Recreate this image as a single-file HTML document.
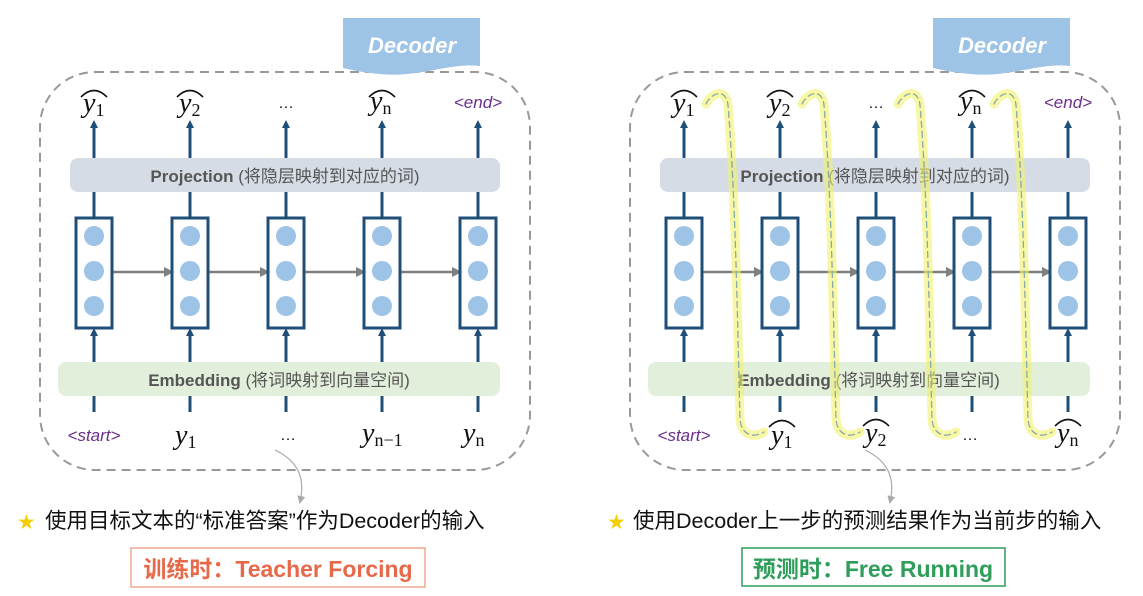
<!DOCTYPE html>
<html><head><meta charset="utf-8"><style>
body{margin:0;background:#fff;}
svg{display:block;}
.m{font-family:"Liberation Serif",serif;font-style:italic;font-size:28px;fill:#111;}
.s{font-family:"Liberation Serif",serif;font-style:normal;font-size:18px;fill:#111;}
.tag{font-family:"Liberation Sans",sans-serif;font-style:italic;font-size:17px;fill:#6b2e8e;}
.bar{font-family:"Liberation Sans","Noto Sans CJK SC",sans-serif;font-size:17px;fill:#555;}
.cn{font-family:"Liberation Sans","Noto Sans CJK SC",sans-serif;font-size:21.5px;fill:#111;}
</style></head><body>
<svg width="1143" height="596" viewBox="0 0 1143 596" xmlns="http://www.w3.org/2000/svg">
<defs>
<marker id="ab" markerWidth="8" markerHeight="8" refX="4" refY="4" orient="auto" markerUnits="userSpaceOnUse"><path d="M0,0 L8,4 L0,8 Z" fill="#1f4e79"/></marker>
<marker id="ag" markerWidth="10" markerHeight="10" refX="8" refY="5" orient="auto" markerUnits="userSpaceOnUse"><path d="M0,0 L10,5 L0,10 Z" fill="#7f7f7f"/></marker>
<marker id="al" markerWidth="8" markerHeight="8" refX="6" refY="4" orient="auto" markerUnits="userSpaceOnUse"><path d="M0,0 L8,4 L0,8 Z" fill="#aaa"/></marker>
<g id="panel">
<rect x="40" y="72" width="490" height="398" rx="55" fill="none" stroke="#999" stroke-width="2" stroke-dasharray="9,6"/>
<path d="M343,18 H480 V66 C450,62 420,78 380,74 C365,73 352,70 343,68 Z" fill="#9dc3e6"/>
<text x="412" y="53" text-anchor="middle" font-family="Liberation Sans,sans-serif" font-weight="bold" font-style="italic" font-size="22" fill="#fff">Decoder</text>
<rect x="70" y="158" width="430" height="34" rx="8" fill="#d6dce5"/>
<text x="285" y="182" text-anchor="middle" class="bar"><tspan font-weight="bold">Projection</tspan> (将隐层映射到对应的词)</text>
<rect x="58" y="362" width="442" height="34" rx="8" fill="#e2efda"/>
<text x="279" y="386" text-anchor="middle" class="bar"><tspan font-weight="bold">Embedding</tspan> (将词映射到向量空间)</text>
<g stroke="#1f4e79" stroke-width="3" fill="none">
<path d="M94,158 V124" marker-end="url(#ab)"/><path d="M190,158 V124" marker-end="url(#ab)"/><path d="M286,158 V124" marker-end="url(#ab)"/><path d="M382,158 V124" marker-end="url(#ab)"/><path d="M478,158 V124" marker-end="url(#ab)"/>
<path d="M94,192 V218 M190,192 V218 M286,192 V218 M382,192 V218 M478,192 V218"/>
<path d="M94,362 V332" marker-end="url(#ab)"/><path d="M190,362 V332" marker-end="url(#ab)"/><path d="M286,362 V332" marker-end="url(#ab)"/><path d="M382,362 V332" marker-end="url(#ab)"/><path d="M478,362 V332" marker-end="url(#ab)"/>
<path d="M94,396 V412 M190,396 V412 M286,396 V412 M382,396 V412 M478,396 V412"/>
</g>
<g stroke="#7f7f7f" stroke-width="2.5" fill="none">
<path d="M112,272 H172" marker-end="url(#ag)"/><path d="M208,272 H268" marker-end="url(#ag)"/><path d="M304,272 H364" marker-end="url(#ag)"/><path d="M400,272 H460" marker-end="url(#ag)"/>
</g>
<g fill="#fff" stroke="#1f4e79" stroke-width="3">
<rect x="76" y="218" width="36" height="110"/><rect x="172" y="218" width="36" height="110"/><rect x="268" y="218" width="36" height="110"/><rect x="364" y="218" width="36" height="110"/><rect x="460" y="218" width="36" height="110"/>
</g>
<g fill="#9dc3e6">
<circle cx="94" cy="236" r="10"/><circle cx="94" cy="271" r="10"/><circle cx="94" cy="306" r="10"/>
<circle cx="190" cy="236" r="10"/><circle cx="190" cy="271" r="10"/><circle cx="190" cy="306" r="10"/>
<circle cx="286" cy="236" r="10"/><circle cx="286" cy="271" r="10"/><circle cx="286" cy="306" r="10"/>
<circle cx="382" cy="236" r="10"/><circle cx="382" cy="271" r="10"/><circle cx="382" cy="306" r="10"/>
<circle cx="478" cy="236" r="10"/><circle cx="478" cy="271" r="10"/><circle cx="478" cy="306" r="10"/>
</g>
<g fill="none" stroke="#111" stroke-width="1.6">
<path d="M81,97 Q94,84 107,97"/><path d="M177,97 Q190,84 203,97"/><path d="M369,97 Q382,84 395,97"/>
</g>
<text x="83" y="112" class="m">y<tspan class="s" dy="4">1</tspan></text>
<text x="179" y="112" class="m">y<tspan class="s" dy="4">2</tspan></text>
<text x="286" y="108" text-anchor="middle" font-family="Liberation Sans" font-size="16" fill="#111">…</text>
<text x="370" y="110" class="m">y<tspan class="s" font-style="italic" dy="4">n</tspan></text>
<text x="478" y="108" text-anchor="middle" class="tag">&lt;end&gt;</text>
<text x="94" y="441" text-anchor="middle" class="tag">&lt;start&gt;</text>
</g>
</defs>
<use href="#panel"/>
<use href="#panel" x="590"/>
<text x="175" y="444" class="m">y<tspan class="s" dy="4">1</tspan></text>
<text x="288" y="440" text-anchor="middle" font-family="Liberation Sans" font-size="16" fill="#111">…</text>
<text x="362" y="442" class="m">y<tspan class="s" font-style="italic" dy="4">n−1</tspan></text>
<text x="463" y="442" class="m">y<tspan class="s" font-style="italic" dy="4">n</tspan></text>
<g fill="none" stroke-linecap="round">
<g stroke="#f2f26a" stroke-width="9" opacity="0.6">
<path d="M706,104 C712,92 726,88 728,105 C736,200 738,350 740,420 C742,436 754,438 764,432"/>
<path d="M802,104 C808,92 822,88 824,105 C832,200 834,350 836,420 C838,436 850,438 860,432"/>
<path d="M898,104 C904,92 918,88 920,105 C928,200 930,350 932,420 C934,436 946,438 956,432"/>
<path d="M994,104 C1000,92 1014,88 1016,105 C1024,200 1026,350 1028,420 C1030,436 1042,438 1052,432"/>
</g>
<g stroke="#8aa" stroke-width="1.3" stroke-dasharray="6,4">
<path d="M706,104 C712,92 726,88 728,105 C736,200 738,350 740,420 C742,436 754,438 764,432"/>
<path d="M802,104 C808,92 822,88 824,105 C832,200 834,350 836,420 C838,436 850,438 860,432"/>
<path d="M898,104 C904,92 918,88 920,105 C928,200 930,350 932,420 C934,436 946,438 956,432"/>
<path d="M994,104 C1000,92 1014,88 1016,105 C1024,200 1026,350 1028,420 C1030,436 1042,438 1052,432"/>
</g>
</g>
<g fill="none" stroke="#111" stroke-width="1.6">
<path d="M769,427 Q782,414 795,427"/><path d="M863,426 Q876,413 889,426"/><path d="M1055,426 Q1068,413 1081,426"/>
</g>
<text x="771" y="444" class="m">y<tspan class="s" dy="4">1</tspan></text>
<text x="865" y="442" class="m">y<tspan class="s" dy="4">2</tspan></text>
<text x="970" y="440" text-anchor="middle" font-family="Liberation Sans" font-size="16" fill="#111">…</text>
<text x="1057" y="442" class="m">y<tspan class="s" font-style="italic" dy="4">n</tspan></text>
<path d="M275,450 C300,462 305,480 300,502" fill="none" stroke="#aaa" stroke-width="1.2" marker-end="url(#al)"/>
<path d="M865,450 C890,462 895,480 890,502" fill="none" stroke="#aaa" stroke-width="1.2" marker-end="url(#al)"/>
<text x="17" y="529" font-size="21" fill="#f5d000" font-family="DejaVu Sans">★</text>
<text x="45" y="528" class="cn">使用目标文本的“标准答案”作为Decoder的输入</text>
<text x="607" y="529" font-size="21" fill="#f5d000" font-family="DejaVu Sans">★</text>
<text x="633" y="528" class="cn">使用Decoder上一步的预测结果作为当前步的输入</text>
<rect x="131" y="548" width="294" height="39" fill="#fff" stroke="#f0a890" stroke-width="1.5"/>
<text x="278" y="577" text-anchor="middle" font-family="Liberation Sans,Noto Sans CJK SC,sans-serif" font-weight="bold" font-size="23" fill="#e8694a">训练时：Teacher Forcing</text>
<rect x="742" y="548" width="263" height="38" fill="#fff" stroke="#2e9e5a" stroke-width="1.5"/>
<text x="873" y="577" text-anchor="middle" font-family="Liberation Sans,Noto Sans CJK SC,sans-serif" font-weight="bold" font-size="23" fill="#2e9e5a">预测时：Free Running</text>
</svg>
</body></html>
